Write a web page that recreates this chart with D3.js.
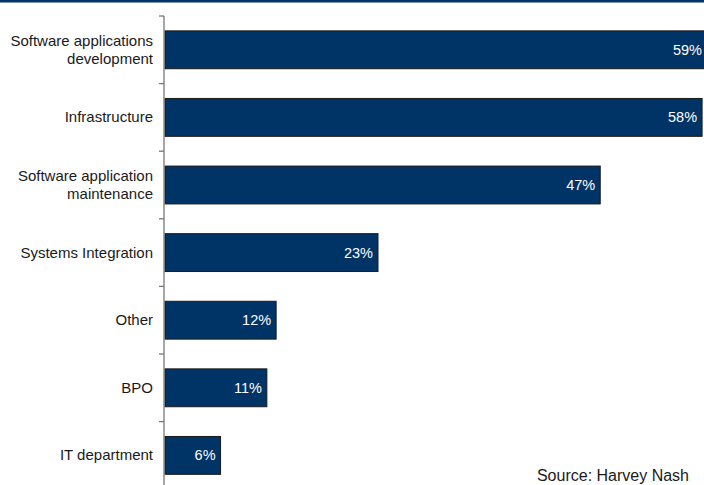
<!DOCTYPE html>
<html>
<head>
<meta charset="utf-8">
<script src="https://cdn.jsdelivr.net/npm/d3@7"></script>
<style>
  html, body { margin: 0; padding: 0; background: #fff; }
  svg { display: block; font-family: "Liberation Sans", Arial, sans-serif; }
</style>
</head>
<body>
<svg id="chart" width="704" height="485"></svg>
<script>
// Share of respondents outsourcing each type of IT work
const categories = [
  "Software applications development",
  "Infrastructure",
  "Software application maintenance",
  "Systems Integration",
  "Other",
  "BPO",
  "IT department"
];
const labelLines = [
  ["Software applications", "development"],
  ["Infrastructure"],
  ["Software application", "maintenance"],
  ["Systems Integration"],
  ["Other"],
  ["BPO"],
  ["IT department"]
];
const values = [59, 58, 47, 23, 12, 11, 6];
const valueLabels = ["59%", "58%", "47%", "23%", "12%", "11%", "6%"];
const sourceNote = "Source: Harvey Nash";

const W = 704, H = 485;
const svg = d3.select("#chart");

const navy = "#003366";

// thin header rule across the top
svg.append("rect").attr("x", 0).attr("y", 0).attr("width", W).attr("height", 2.5).attr("fill", navy);

const x = d3.scaleLinear().domain([0, 60]).range([165, 165 + 60 * 9.26]);
const y = d3.scaleBand().domain(categories).range([16, 16 + 7 * 67.6]).paddingInner(0.44).paddingOuter(0.22);

// bars
svg.append("g").selectAll("rect")
  .data(values)
  .join("rect")
  .attr("x", x(0))
  .attr("y", (d, i) => y(categories[i]))
  .attr("width", d => x(d) - x(0))
  .attr("height", y.bandwidth())
  .attr("fill", navy)
  .attr("stroke", "#1a1a1a")
  .attr("stroke-width", 1);

// value labels inside bar ends, kept inside the frame
svg.append("g").selectAll("text")
  .data(values)
  .join("text")
  .attr("x", d => Math.min(x(d) - 5, W - 2))
  .attr("y", (d, i) => y(categories[i]) + y.bandwidth() / 2 + 5)
  .attr("text-anchor", "end")
  .attr("fill", "#ffffff")
  .attr("font-size", "14.5px")
  .text((d, i) => valueLabels[i]);

// category axis with ticks between bands
const yAxis = d3.axisLeft(y).tickSize(0).tickFormat("");
const ax = svg.append("g").attr("transform", `translate(${x(0) - 1},0)`).call(yAxis);
ax.select(".domain").attr("stroke", "#777").attr("stroke-width", 1.3)
  .attr("d", `M0,${y.range()[0]}V${H + 10}`);

const step = y.step();
const boundaries = d3.range(categories.length).map(i => y.range()[0] + i * step);
svg.append("g").selectAll("line")
  .data(boundaries)
  .join("line")
  .attr("x1", x(0) - 6).attr("x2", x(0) - 1)
  .attr("y1", d => d).attr("y2", d => d)
  .attr("stroke", "#777").attr("stroke-width", 1.3);

// category labels
const lh = 17.6;
const lab = svg.append("g").selectAll("text")
  .data(categories)
  .join("text")
  .attr("text-anchor", "end")
  .attr("fill", "#1a1a1a")
  .attr("font-size", "15px");
lab.each(function(c, i) {
  const lines = labelLines[i];
  const cy = y(c) + y.bandwidth() / 2 + 5 - lh / 2 * (lines.length - 1);
  d3.select(this).selectAll("tspan")
    .data(lines)
    .join("tspan")
    .attr("x", 153)
    .attr("y", (l, j) => cy + j * lh)
    .text(l => l);
});

// source note
svg.append("text")
  .attr("x", 689).attr("y", 481)
  .attr("text-anchor", "end")
  .attr("fill", "#1a1a1a")
  .attr("font-size", "16px")
  .text(sourceNote);
</script>
</body>
</html>
